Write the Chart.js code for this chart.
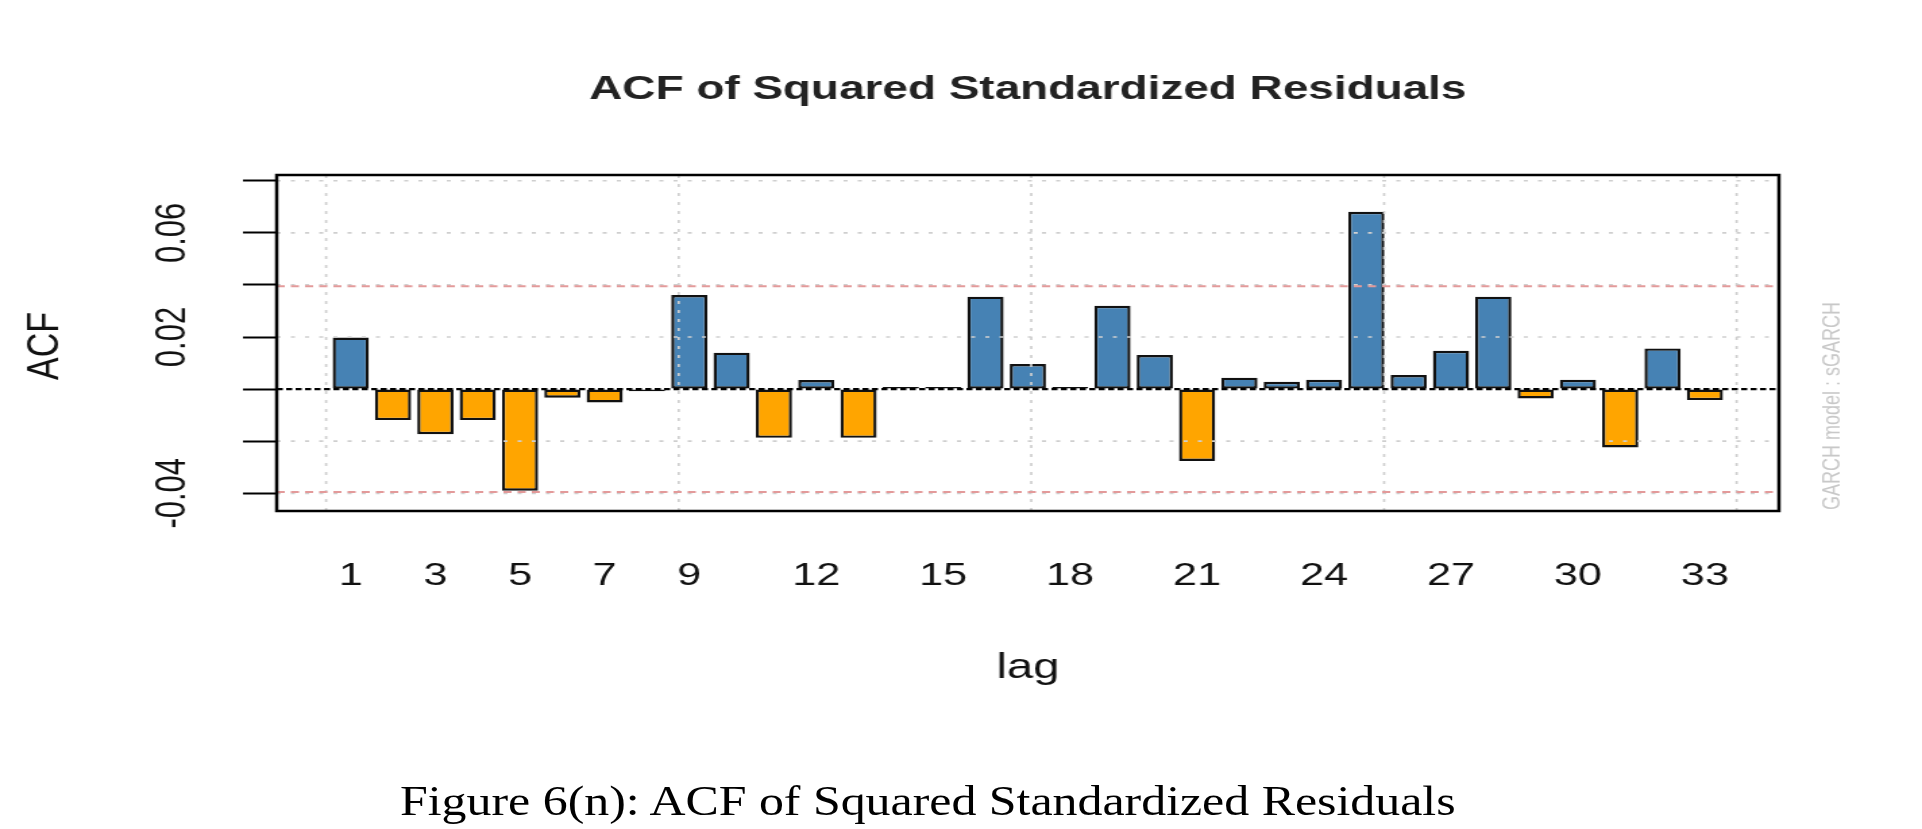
<!DOCTYPE html>
<html>
<head>
<meta charset="utf-8">
<script src="https://cdn.jsdelivr.net/npm/chart.js@4.4.1/dist/chart.umd.min.js"></script>
<style>
  html, body { margin: 0; padding: 0; background: #fff; }
  body { width: 1922px; height: 829px; position: relative; overflow: hidden; }
  /* the R figure is stretched sideways, so the canvas is drawn narrow and widened by css */
  #acf { position: absolute; left: 0; top: 0; width: 1922px !important; height: 829px !important; }
  #caption {
    position: absolute; left: 400px; top: 779px;
    font-family: "Liberation Serif", "Times New Roman", serif;
    font-size: 43px; line-height: 43px; white-space: nowrap; color: #000;
    transform: scaleX(1.16); transform-origin: 0 0;
  }
</style>
</head>
<body>
<canvas id="acf" width="1424" height="829" style="width:1922px;height:829px"></canvas>
<div id="caption">Figure 6(n): ACF of Squared Standardized Residuals</div>
<script>
const chartTitle = 'ACF of Squared Standardized Residuals';
const xTitle = 'lag';
const yTitle = 'ACF';
const watermark = 'GARCH model : sGARCH';

const lags = [1, 2, 3, 4, 5, 6, 7, 8, 9, 10, 11, 12, 13, 14, 15, 16, 17,
              18, 19, 20, 21, 22, 23, 24, 25, 26, 27, 28, 29, 30, 31, 32, 33];
const acfValues = [0.0198, -0.0119, -0.0173, -0.0119, -0.0390, -0.0033, -0.0051, -0.0008,
                   0.0361, 0.0140, -0.0187, 0.0035, -0.0187, 0.0008, 0.0008, 0.0355,
                   0.0096, 0.0008, 0.0320, 0.0131, -0.0276, 0.0044, 0.0028, 0.0036,
                   0.0681, 0.0054, 0.0147, 0.0355, -0.0036, 0.0036, -0.0224, 0.0156, -0.0042];

const xTickLags = [1, 3, 5, 7, 9, 12, 15, 18, 21, 24, 27, 30, 33];
const yTickValues = [-0.04, -0.02, 0, 0.02, 0.04, 0.06, 0.08];
const yLabelValues = [-0.04, 0.02, 0.06];
const gridLags = [0.417, 8.75, 17.08, 25.42, 33.75];
const gridValues = [-0.04, -0.02, 0.02, 0.04, 0.06, 0.08];
const confBound = 0.0395;

const FONT = '"Liberation Sans", Arial, sans-serif';

function line(ctx, x1, y1, x2, y2) {
    ctx.beginPath();
    ctx.moveTo(x1, y1);
    ctx.lineTo(x2, y2);
    ctx.stroke();
}

const overlay = {
    id: 'overlay',
    afterDatasetsDraw(chart) {
        const { ctx, chartArea: a, scales: { x, y } } = chart;
        ctx.save();
        ctx.beginPath();
        ctx.rect(a.left, a.top, a.right - a.left, a.bottom - a.top);
        ctx.clip();

        // light grid, drawn over the bars like R's grid()
        ctx.strokeStyle = '#cfcfcf';
        ctx.lineWidth = 1.7;
        ctx.setLineDash([3, 7.5]);
        gridValues.forEach(v => {
            const py = y.getPixelForValue(v);
            line(ctx, a.left, py, a.right, py);
        });
        ctx.setLineDash([3, 6]);
        gridLags.forEach(v => {
            const px = x.getPixelForValue(v);
            line(ctx, px, a.top, px, a.bottom);
        });

        // confidence bounds
        ctx.strokeStyle = '#e39a9a';
        ctx.lineWidth = 2;
        ctx.setLineDash([6, 4.5]);
        [confBound, -confBound].forEach(v => {
            const py = y.getPixelForValue(v);
            line(ctx, a.left, py, a.right, py);
        });

        // zero line
        ctx.strokeStyle = '#000';
        ctx.lineWidth = 2.2;
        ctx.setLineDash([4.5, 2.5]);
        const p0 = y.getPixelForValue(0);
        line(ctx, a.left, p0, a.right, p0);
        ctx.restore();

        // box
        ctx.save();
        ctx.strokeStyle = '#000';
        ctx.lineWidth = 2.5;
        ctx.strokeRect(a.left, a.top, a.right - a.left, a.bottom - a.top);
        ctx.restore();
    },
    afterDraw(chart) {
        const { ctx, chartArea: a } = chart;
        const cx = (a.left + a.right) / 2;
        ctx.save();
        ctx.textAlign = 'center';
        ctx.textBaseline = 'middle';

        ctx.fillStyle = '#222';
        ctx.font = 'bold 34px ' + FONT;
        ctx.fillText(chartTitle, cx, 90);

        ctx.fillStyle = '#111';
        ctx.font = '35px ' + FONT;
        ctx.textBaseline = 'alphabetic';
        ctx.fillText(xTitle, cx, 678);

        ctx.textBaseline = 'middle';
        ctx.save();
        ctx.translate(33.5, 346);
        ctx.rotate(-Math.PI / 2);
        ctx.font = '34px ' + FONT;
        ctx.fillText(yTitle, 0, 0);
        ctx.restore();

        ctx.save();
        ctx.translate(1358, 406);
        ctx.rotate(-Math.PI / 2);
        ctx.fillStyle = '#c8c8c8';
        ctx.font = '18px ' + FONT;
        ctx.fillText(watermark, 0, 0);
        ctx.restore();

        ctx.restore();
    }
};

const ctx = document.getElementById('acf').getContext('2d');

new Chart(ctx, {
    type: 'bar',
    data: {
        datasets: [{
            data: lags.map((lag, i) => ({ x: lag, y: acfValues[i] })),
            backgroundColor: acfValues.map(v => v >= 0 ? '#4682B4' : '#FFA500'),
            borderColor: '#111',
            borderWidth: 2.4,
            borderSkipped: false,
            categoryPercentage: 1,
            barPercentage: 0.855
        }]
    },
    options: {
        responsive: false,
        animation: false,
        devicePixelRatio: 1,
        layout: { padding: { top: 175, right: 106, bottom: 198, left: 0 } },
        plugins: {
            legend: { display: false },
            tooltip: { enabled: false },
            title: { display: false }
        },
        scales: {
            x: {
                type: 'linear',
                offset: false,
                min: -0.75,
                max: 34.75,
                afterBuildTicks: scale => {
                    scale.ticks = xTickLags.map(v => ({ value: v }));
                },
                afterFit: scale => { scale.height = 120; },
                grid: { display: false, drawTicks: false },
                border: { display: false },
                ticks: {
                    autoSkip: false,
                    maxRotation: 0,
                    padding: 46,
                    color: '#111',
                    font: { family: FONT, size: 32 },
                    callback: v => String(v)
                }
            },
            y: {
                type: 'linear',
                min: -0.0468,
                max: 0.0822,
                afterBuildTicks: scale => {
                    scale.ticks = yTickValues.map(v => ({ value: v }));
                },
                afterFit: scale => { scale.width = 205; },
                grid: {
                    drawOnChartArea: false,
                    drawTicks: true,
                    tickLength: 25,
                    tickColor: '#000',
                    tickWidth: 2
                },
                border: { display: false },
                ticks: {
                    autoSkip: false,
                    minRotation: 90,
                    maxRotation: 90,
                    crossAlign: 'center',
                    padding: 16,
                    color: '#111',
                    font: { family: FONT, size: 31 },
                    callback: v => yLabelValues.some(t => Math.abs(t - v) < 1e-9) ? v.toFixed(2) : ''
                }
            }
        }
    },
    plugins: [overlay]
});
</script>
</body>
</html>
